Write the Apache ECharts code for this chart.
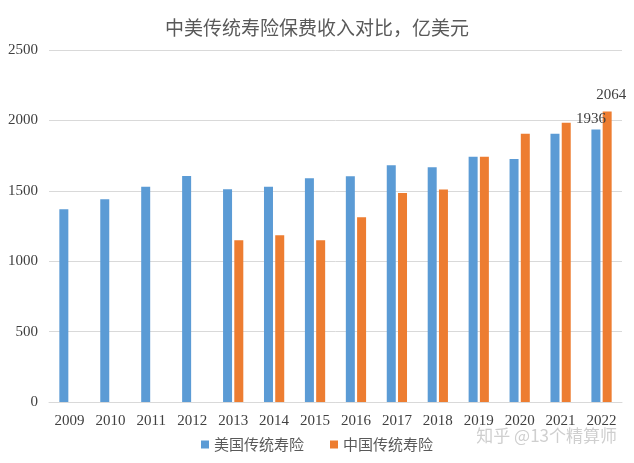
<!DOCTYPE html>
<html>
<head>
<meta charset="utf-8">
<script src="https://cdn.jsdelivr.net/npm/echarts@6/dist/echarts.min.js"></script>
<style>
html,body{margin:0;padding:0;background:#fff;}
#chart{width:634px;height:463px;}
</style>
</head>
<body>
<div id="chart"></div>
<script>
const titleText = '中美传统寿险保费收入对比，亿美元';
const categories = ['2009','2010','2011','2012','2013','2014','2015','2016','2017','2018','2019','2020','2021','2022'];
const usName = '美国传统寿险';
const cnName = '中国传统寿险';
const usValues = [1369, 1440, 1528, 1606, 1511, 1528, 1590, 1604, 1682, 1668, 1741, 1725, 1905, 1936];
const cnValues = [null, null, null, null, 1149, 1184, 1149, 1312, 1485, 1509, 1741, 1905, 1983, 2064];
const labeledIndex = 13;

const serif = '"Liberation Serif", "Noto Sans CJK SC", serif';
const cjk = '"Noto Sans CJK SC", sans-serif';

function withLabel(values, offset) {
  return values.map((v, i) => {
    if (i === labeledIndex) {
      return { value: v, label: { show: true, position: 'top', offset: offset, color: '#404040', fontFamily: serif, fontSize: 15 } };
    }
    return v;
  });
}

const chart = echarts.init(document.getElementById('chart'), null, { renderer: 'canvas' });
chart.setOption({
  animation: false,
  backgroundColor: '#fff',
  title: {
    text: titleText,
    left: 'center',
    top: 13,
    textStyle: { color: '#595959', fontSize: 19, fontWeight: 'normal', fontFamily: cjk }
  },
  legend: {
    bottom: 6,
    left: 'center',
    itemWidth: 8,
    itemHeight: 8,
    itemGap: 26,
    icon: 'rect',
    textStyle: { color: '#595959', fontSize: 15, fontFamily: cjk },
    data: [usName, cnName]
  },
  grid: { left: 49, right: 12, top: 50, bottom: 61, containLabel: false },
  xAxis: {
    type: 'category',
    data: categories,
    axisLine: { lineStyle: { color: '#d9d9d9' } },
    axisTick: { show: false },
    axisLabel: { color: '#404040', fontSize: 15, fontFamily: serif, margin: 12 }
  },
  yAxis: {
    type: 'value',
    min: 0,
    max: 2500,
    interval: 500,
    axisLine: { show: false },
    axisTick: { show: false },
    splitLine: { lineStyle: { color: '#d9d9d9' } },
    axisLabel: { color: '#404040', fontSize: 15, fontFamily: serif, margin: 11, formatter: (v) => String(v) }
  },
  series: [
    {
      name: usName,
      type: 'bar',
      data: withLabel(usValues, [-5, 2]),
      barWidth: 9,
      barGap: '25%',
      itemStyle: { color: '#5B9BD5' }
    },
    {
      name: cnName,
      type: 'bar',
      data: withLabel(cnValues, [4, -4]),
      barWidth: 9,
      itemStyle: { color: '#ED7D31' }
    }
  ],
  graphic: [
    {
      type: 'text',
      right: 17,
      top: 427,
      style: { text: '知乎 @13个精算师', fill: '#cfcfcf', font: '17px "Noto Sans CJK SC", sans-serif' }
    }
  ]
});
</script>
</body>
</html>
